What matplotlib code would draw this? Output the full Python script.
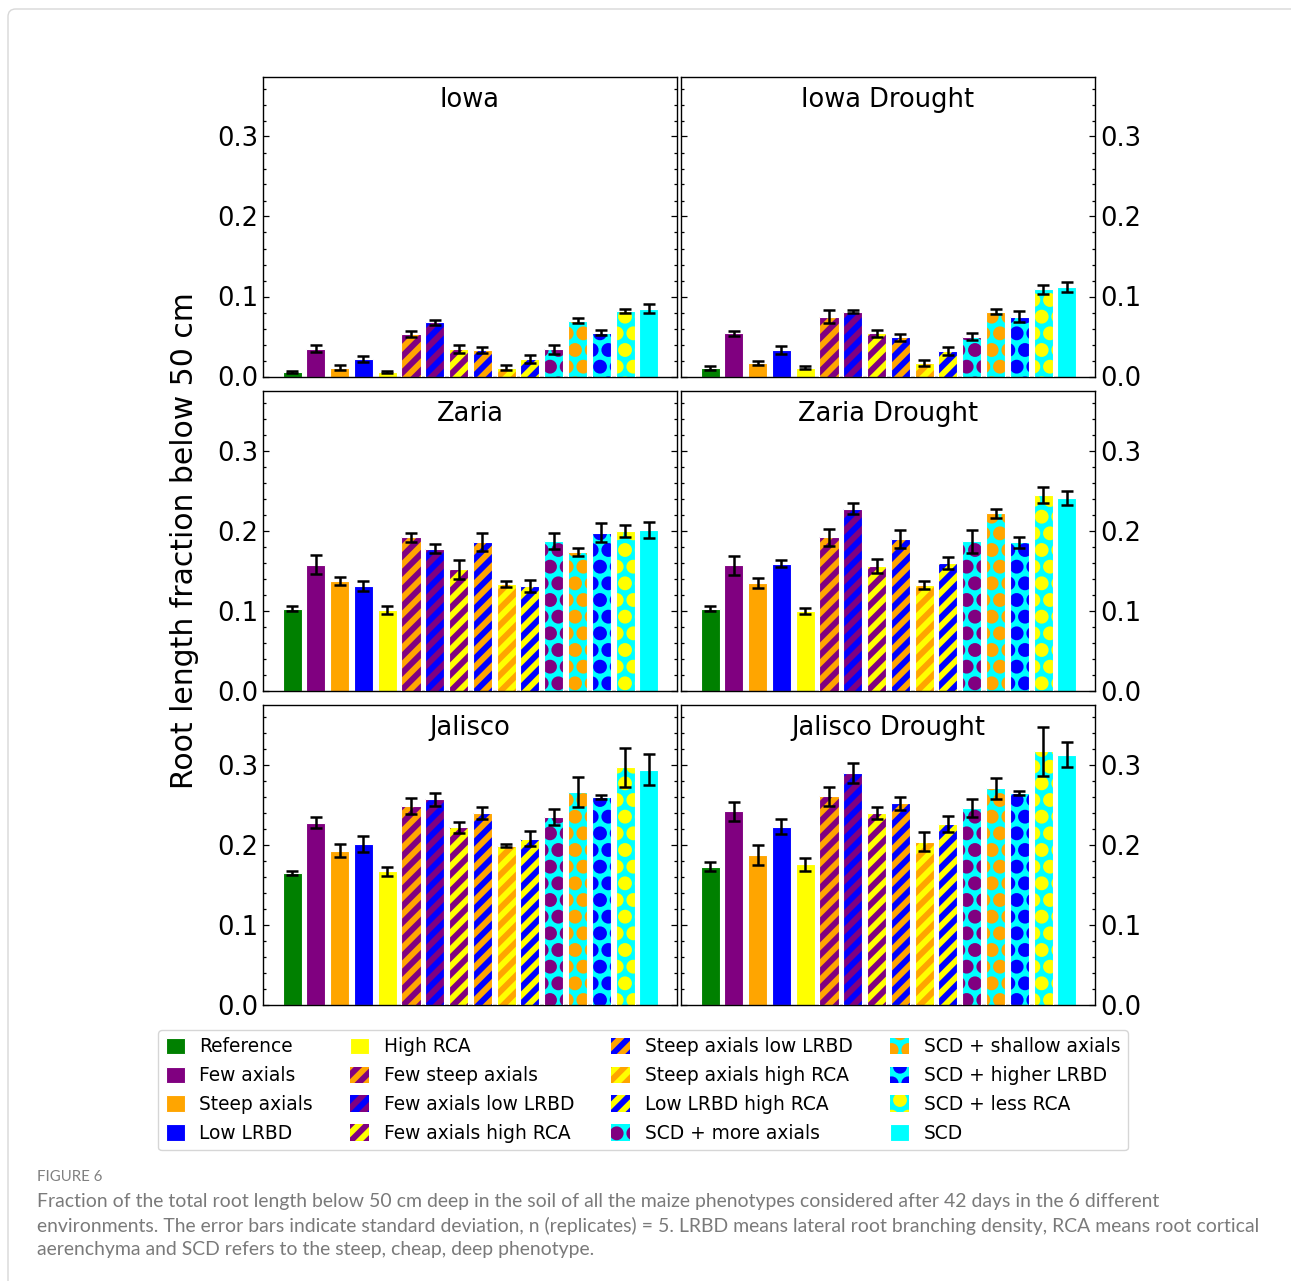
import matplotlib
matplotlib.use('Agg')
import matplotlib.pyplot as plt
import matplotlib.hatch as mhatch
import numpy as np
from matplotlib.patches import FancyBboxPatch
from matplotlib.ticker import MultipleLocator

plt.rcParams['font.family'] = ['DejaVu Sans']
plt.rcParams['hatch.linewidth'] = 4.2
mhatch.SmallFilledCircles.size = 0.24

# ---------------- data ----------------
phenotypes = ['Reference', 'Few axials', 'Steep axials', 'Low LRBD', 'High RCA',
              'Few steep axials', 'Few axials low LRBD', 'Few axials high RCA',
              'Steep axials low LRBD', 'Steep axials high RCA', 'Low LRBD high RCA',
              'SCD + more axials', 'SCD + shallow axials', 'SCD + higher LRBD',
              'SCD + less RCA', 'SCD']
face_colors = ['green', 'purple', 'orange', 'blue', 'yellow',
               'purple', 'purple', 'purple', 'orange', 'orange', 'blue',
               'cyan', 'cyan', 'cyan', 'cyan', 'cyan']
hatch_colors = [None, None, None, None, None,
                'orange', 'blue', 'yellow', 'blue', 'yellow', 'yellow',
                'purple', 'orange', 'blue', 'yellow', None]
hatches = [None, None, None, None, None,
           '//', '//', '//', '//', '//', '//',
           '.', '.', '.', '.', None]

environments = ['Iowa', 'Iowa Drought', 'Zaria', 'Zaria Drought', 'Jalisco', 'Jalisco Drought']

iowa = [0.006, 0.035, 0.011, 0.022, 0.006, 0.053, 0.068, 0.035, 0.033, 0.011, 0.022,
        0.034, 0.070, 0.055, 0.082, 0.085]
iowa_err = [0.001, 0.004, 0.003, 0.004, 0.001, 0.0035, 0.003, 0.005, 0.004, 0.003, 0.005,
            0.0055, 0.003, 0.003, 0.0025, 0.006]
iowa_drought = [0.011, 0.054, 0.017, 0.033, 0.011, 0.075, 0.081, 0.054, 0.049, 0.017, 0.032,
                0.050, 0.081, 0.075, 0.109, 0.112]
iowa_drought_err = [0.0025, 0.003, 0.003, 0.005, 0.002, 0.008, 0.002, 0.004, 0.004, 0.004, 0.0045,
                    0.004, 0.003, 0.007, 0.006, 0.006]
zaria = [0.103, 0.158, 0.137, 0.131, 0.101, 0.192, 0.178, 0.152, 0.186, 0.134, 0.131,
         0.187, 0.174, 0.198, 0.200, 0.201]
zaria_err = [0.0033, 0.012, 0.005, 0.006, 0.005, 0.0056, 0.006, 0.012, 0.011, 0.004, 0.0077,
             0.010, 0.005, 0.012, 0.007, 0.010]
zaria_drought = [0.103, 0.157, 0.135, 0.159, 0.100, 0.192, 0.228, 0.156, 0.190, 0.133, 0.160,
                 0.187, 0.222, 0.186, 0.245, 0.241]
zaria_drought_err = [0.0033, 0.0117, 0.0067, 0.0044, 0.004, 0.011, 0.007, 0.009, 0.011, 0.005, 0.007,
                     0.014, 0.006, 0.0067, 0.010, 0.009]
jalisco = [0.165, 0.228, 0.193, 0.201, 0.167, 0.249, 0.257, 0.222, 0.240, 0.199, 0.208,
           0.235, 0.266, 0.260, 0.297, 0.294]
jalisco_err = [0.003, 0.007, 0.008, 0.010, 0.0056, 0.010, 0.008, 0.0073, 0.007, 0.002, 0.0094,
               0.010, 0.0185, 0.0025, 0.0244, 0.0196]
jalisco_drought = [0.173, 0.242, 0.188, 0.223, 0.176, 0.261, 0.290, 0.240, 0.252, 0.204, 0.226,
                   0.246, 0.271, 0.265, 0.317, 0.313]
jalisco_drought_err = [0.006, 0.012, 0.0125, 0.009, 0.008, 0.012, 0.013, 0.0077, 0.008, 0.0117, 0.0098,
                       0.011, 0.013, 0.0025, 0.031, 0.016]

values = [iowa, iowa_drought, zaria, zaria_drought, jalisco, jalisco_drought]
errors = [iowa_err, iowa_drought_err, zaria_err, zaria_drought_err, jalisco_err, jalisco_drought_err]

ylabel = 'Root length fraction below 50 cm'
caption_head = 'FIGURE 6'
caption_lines = [
    'Fraction of the total root length below 50 cm deep in the soil of all the maize phenotypes considered after 42 days in the 6 different',
    'environments. The error bars indicate standard deviation, n (replicates) = 5. LRBD means lateral root branching density, RCA means root cortical',
    'aerenchyma and SCD refers to the steep, cheap, deep phenotype.',
]

# ---------------- figure ----------------
W, H = 1291, 1281
DPI = 100
fig = plt.figure(figsize=(W / DPI, H / DPI), dpi=DPI)
fig.patch.set_facecolor('white')

# page frame decoration
fig.add_artist(FancyBboxPatch((8 / W, -0.1), 1.2, 1.1 - 9 / H, transform=fig.transFigure,
                              boxstyle='round,pad=0,rounding_size=0.006', fill=False,
                              edgecolor='#d8d8d8', linewidth=1.0))

ax_w = 414 / W
ax_h = 300 / H
lefts = [263 / W, 681 / W]
bottoms = [1 - 376.5 / H, 1 - 691 / H, 1 - 1005 / H]

x = np.arange(len(phenotypes))
legend_handles = None
for i, env in enumerate(environments):
    row, col = divmod(i, 2)
    ax = fig.add_axes([lefts[col], bottoms[row], ax_w, ax_h])
    handles = []
    for j in range(len(phenotypes)):
        if hatches[j] is None:
            b = ax.bar(x[j], values[i][j], width=0.8, color=face_colors[j],
                       edgecolor='white', linewidth=0.8, zorder=2)
        else:
            b = ax.bar(x[j], values[i][j], width=0.8, color=face_colors[j],
                       edgecolor=hatch_colors[j], hatch=hatches[j], linewidth=0, zorder=2)
            ax.bar(x[j], values[i][j], width=0.8, fill=False,
                   edgecolor='white', linewidth=0.8, zorder=3)
        handles.append(b)
    if legend_handles is None:
        legend_handles = handles
    ax.errorbar(x, values[i], yerr=errors[i], fmt='none', ecolor='black',
                elinewidth=1.8, capsize=4.6, capthick=1.8, zorder=5)
    ax.set_xlim(-1.22, 16.18)
    ax.set_ylim(0, 0.375)
    ax.set_xticks([])
    ax.yaxis.set_major_locator(MultipleLocator(0.1))
    ax.yaxis.set_minor_locator(MultipleLocator(0.02))
    ax.tick_params(axis='y', which='both', direction='in', left=True, right=True,
                   labelleft=(col == 0), labelright=(col == 1), labelsize=18.5, width=0.9)
    ax.tick_params(axis='y', which='major', length=4.5)
    ax.tick_params(axis='y', which='minor', length=2.5)
    for s in ax.spines.values():
        s.set_linewidth(1.0)
    ax.text(0.5, 0.922, env, transform=ax.transAxes, ha='center', va='center', fontsize=18.5)

fig.text(185 / W, 1 - 541 / H, ylabel, rotation=90, ha='center', va='center', fontsize=21.5)

leg = fig.legend(legend_handles, phenotypes, loc='upper center',
                 bbox_to_anchor=(643 / W, 1 - 1030 / H), ncol=4, fontsize=13.4,
                 handlelength=1.0, handleheight=1.0, handletextpad=0.8,
                 columnspacing=2.0, labelspacing=0.53, borderpad=0.4, borderaxespad=0,
                 frameon=True, fancybox=True)
leg.get_frame().set_edgecolor('#cccccc')

cap_font = ['Lato', 'DejaVu Sans']
fig.text(37 / W, 1 - 1177 / H, caption_head, ha='left', va='center', fontsize=10.8,
         color='#808080', family=cap_font)
for k, line in enumerate(caption_lines):
    fig.text(37 / W, 1 - (1201 + 24.5 * k) / H, line, ha='left', va='center',
             fontsize=13.95, color='#7a7a7a', family=cap_font)

fig.savefig('out.png', dpi=DPI)
